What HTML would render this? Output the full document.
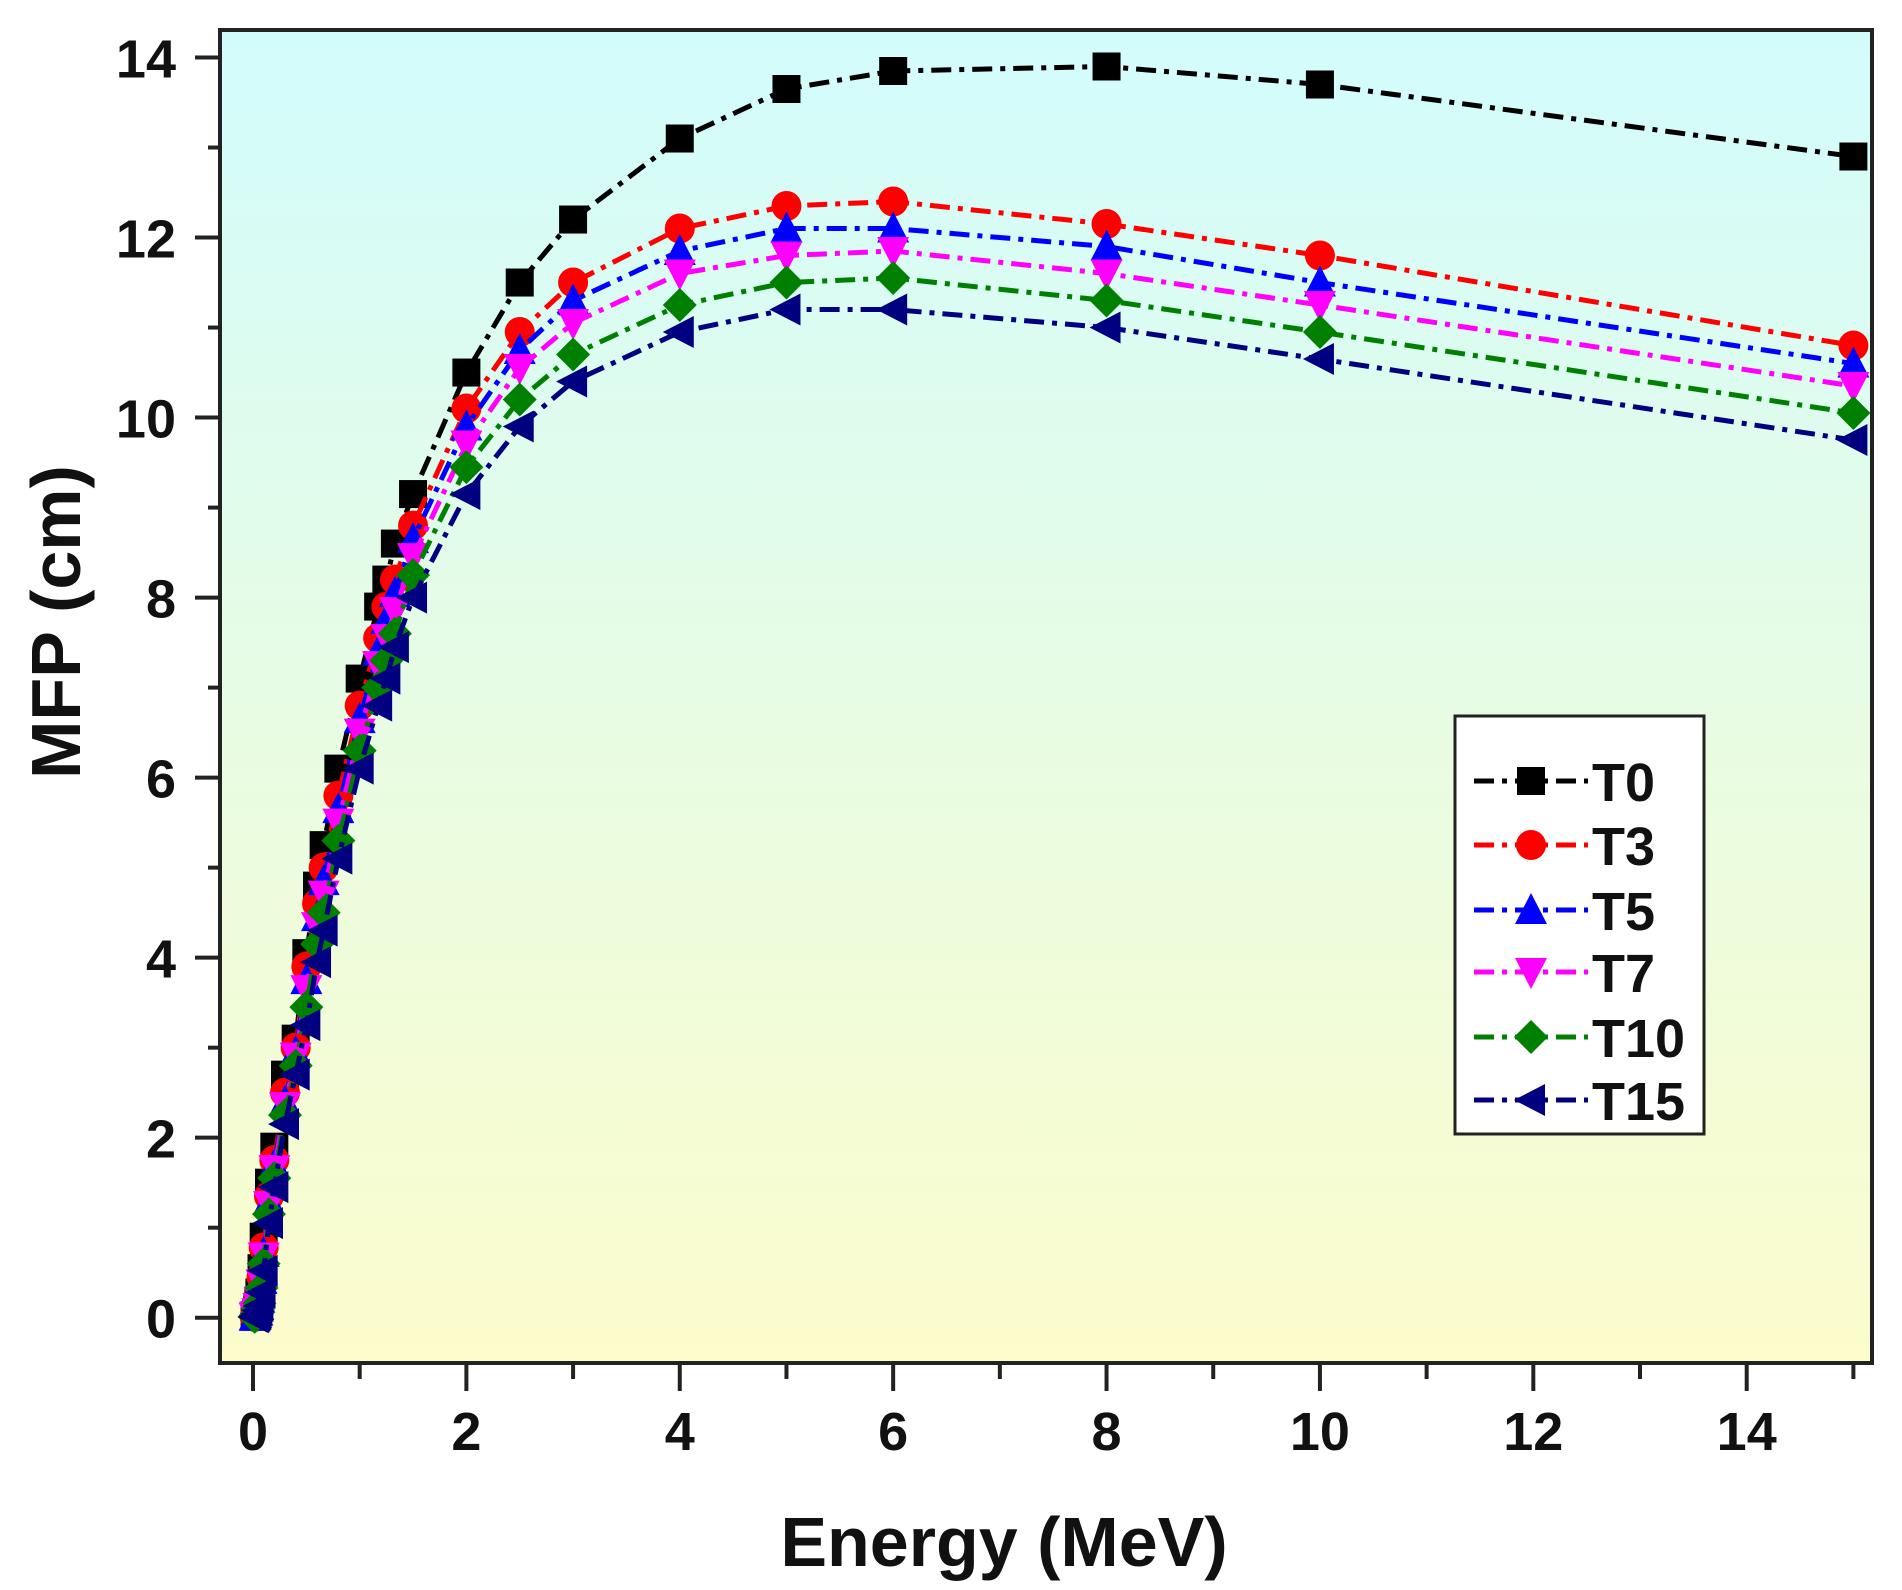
<!DOCTYPE html>
<html><head><meta charset="utf-8">
<style>
html,body{margin:0;padding:0;background:#fff;}
svg{display:block;}
text{font-family:"Liberation Sans",Arial,sans-serif;font-weight:bold;fill:#111;}
</style></head>
<body>
<svg id="chart" width="1902" height="1590" viewBox="0 0 1902 1590" xmlns="http://www.w3.org/2000/svg">
<defs>
<linearGradient id="bg" x1="0" y1="0" x2="0" y2="1">
<stop offset="0" stop-color="#d2fcfc"/>
<stop offset="1" stop-color="#fcfccc"/>
</linearGradient>
<clipPath id="clip"><rect x="220" y="30" width="1652" height="1333"/></clipPath>
</defs>
<rect x="220" y="30" width="1652" height="1333" fill="url(#bg)" stroke="#222" stroke-width="4"/>
<g id="axes"></g>
<g id="series" clip-path="url(#clip)"></g>
<text x="1004" y="1566" font-size="70" text-anchor="middle">Energy (MeV)</text>
<text x="0" y="0" font-size="70" text-anchor="middle" transform="translate(80,622) rotate(-90)">MFP (cm)</text>
<g id="legend"></g>
</svg>
<script>
const energies=[0.015,0.02,0.03,0.04,0.05,0.06,0.08,0.1,0.15,0.2,0.3,0.4,0.5,0.6,0.662,0.8,1,1.173,1.25,1.33,1.5,2,2.5,3,4,5,6,8,10,15];
const seriesNames=["T0","T3","T5","T7","T10","T15"];
const valsT0=[0.01,0.02,0.05,0.1,0.18,0.28,0.55,0.9,1.5,1.9,2.7,3.1,4.05,4.8,5.25,6.1,7.1,7.9,8.2,8.6,9.15,10.5,11.5,12.2,13.1,13.65,13.85,13.9,13.7,12.9];
const valsT3=[0.01,0.02,0.04,0.08,0.15,0.23,0.45,0.78,1.35,1.75,2.5,3.0,3.9,4.6,5.0,5.8,6.8,7.55,7.9,8.2,8.8,10.1,10.95,11.5,12.1,12.35,12.4,12.15,11.8,10.8];
const valsT5=[0.01,0.02,0.04,0.07,0.13,0.21,0.42,0.72,1.3,1.7,2.4,2.95,3.75,4.45,4.85,5.65,6.65,7.4,7.75,8.05,8.65,9.9,10.75,11.3,11.85,12.1,12.1,11.9,11.5,10.6];
const valsT7=[0.01,0.02,0.03,0.06,0.12,0.19,0.38,0.68,1.25,1.65,2.35,2.9,3.65,4.35,4.7,5.5,6.5,7.25,7.55,7.85,8.45,9.7,10.55,11.05,11.6,11.8,11.85,11.6,11.25,10.35];
const valsT10=[0.01,0.015,0.03,0.05,0.1,0.16,0.33,0.6,1.15,1.55,2.25,2.8,3.45,4.15,4.5,5.3,6.3,7.0,7.3,7.6,8.25,9.45,10.2,10.7,11.25,11.5,11.55,11.3,10.95,10.05];
const valsT15=[0.005,0.01,0.02,0.04,0.08,0.13,0.28,0.52,1.05,1.45,2.15,2.7,3.25,3.95,4.3,5.1,6.1,6.8,7.1,7.45,8.0,9.15,9.9,10.4,10.95,11.2,11.2,11.0,10.65,9.75];
const xTicks=[0,2,4,6,8,10,12,14];
const yTicks=[0,2,4,6,8,10,12,14];

const NS="http://www.w3.org/2000/svg";
function xs(v){return 253+v*(1746.7-253)/14;}
function ys(v){return 1317.7-v*(1317.7-57.5)/14;}
function mk(tag,attrs,parent){const e=document.createElementNS(NS,tag);for(const k in attrs)e.setAttribute(k,attrs[k]);parent.appendChild(e);return e;}

const axes=document.getElementById('axes');
for(let v=0;v<=15;v++){
  const major=v%2===0;
  const t=mk('line',{x1:xs(v),x2:xs(v),y1:1363,y2:1363+(major?28:16),stroke:'#222','stroke-width':4},axes);
  
  
}
xTicks.forEach(v=>{
  const t=mk('text',{x:xs(v),y:1450,'font-size':54,'text-anchor':'middle'},axes);
  t.textContent=v;
  
  
});
for(let v=0;v<=14;v++){
  const major=v%2===0;
  const t=mk('line',{x1:220-(major?25:12),x2:220,y1:ys(v),y2:ys(v),stroke:'#222','stroke-width':4},axes);
  
  
}
yTicks.forEach(v=>{
  const t=mk('text',{x:176,y:ys(v)+20,'font-size':54,'text-anchor':'end'},axes);
  t.textContent=v;
  
  
});

const colors=["#000000","#ff0000","#0000ff","#ff00ff","#008000","#000080"];
const shapes=["square","circle","up","down","diamond","left"];
const allVals=[valsT0,valsT3,valsT5,valsT7,valsT10,valsT15];
function marker(shape,x,y,c,parent){
  const s=14;
  let el;
  if(shape==="square") el=mk('rect',{x:x-s,y:y-s,width:2*s,height:2*s,fill:c},parent);
  else if(shape==="circle") el=mk('circle',{cx:x,cy:y,r:s+1,fill:c},parent);
  else {
    let p;
    if(shape==="up") p=[[x,y-s-3],[x+s+2,y+s],[x-s-2,y+s]];
    else if(shape==="down") p=[[x,y+s+3],[x+s+2,y-s],[x-s-2,y-s]];
    else if(shape==="diamond") p=[[x,y-s-3],[x+s+3,y],[x,y+s+3],[x-s-3,y]];
    else p=[[x-s-3,y],[x+s,y-s-2],[x+s,y+s+2]];
    el=mk('polygon',{points:p.map(q=>q.join(',')).join(' '),fill:c},parent);
  }
  return el;
}
const sg=document.getElementById('series');
allVals.forEach((vals,i)=>{
  const g=mk('g',{},sg);
  
  
  const pl=mk('polyline',{points:energies.map((e,j)=>xs(e)+','+ys(vals[j])).join(' '),fill:'none',stroke:colors[i],'stroke-width':5,'stroke-dasharray':'20,8,5,8'},g);
  
  
  energies.forEach((e,j)=>{
    const m=marker(shapes[i],xs(e),ys(vals[j]),colors[i],g);
    
    
  });
});

const lg=document.getElementById('legend');
const box=mk('rect',{x:1455,y:716,width:249,height:418,fill:'#fff',stroke:'#222','stroke-width':3},lg);


const rowY=[781,845,910,972,1037,1100];
seriesNames.forEach((n,i)=>{
  const g=mk('g',{},lg);
  
  
  mk('line',{x1:1474,x2:1588,y1:rowY[i],y2:rowY[i],stroke:colors[i],'stroke-width':5,'stroke-dasharray':'20,8,5,8'},g);
  marker(shapes[i],1531,rowY[i],colors[i],g);
  const t=mk('text',{x:1592,y:rowY[i]+20,'font-size':54},g);
  t.textContent=n;
});
</script>
</body></html>
